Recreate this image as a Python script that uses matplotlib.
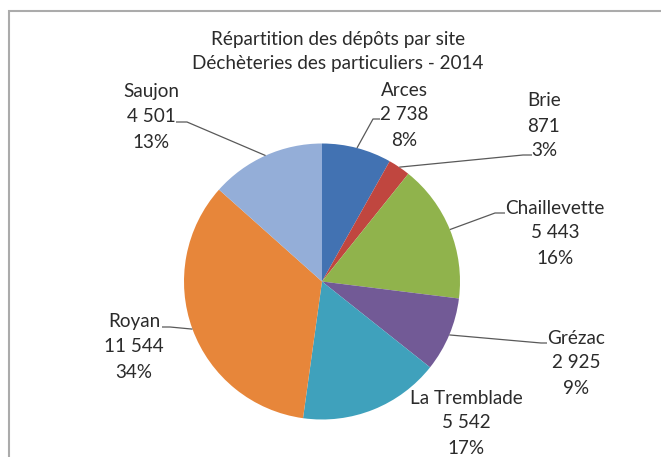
import numpy as np
import matplotlib
matplotlib.use("Agg")
import matplotlib.pyplot as plt
from matplotlib.patches import Rectangle

# ---- data ----
sites = ["Arces", "Brie", "Chaillevette", "Grézac", "La Tremblade", "Royan", "Saujon"]
depots = [2738, 871, 5443, 2925, 5542, 11544, 4501]
colors = ["#4272B2", "#C0463F", "#90B34C", "#725A96", "#3FA1BC", "#E7863A", "#94AED8"]
title_lines = ["Répartition des dépôts par site", "Déchèteries des particuliers - 2014"]

W, H = 661, 457
plt.rcParams['font.family'] = ['Lato', 'DejaVu Sans']
fig = plt.figure(figsize=(W / 100, H / 100), dpi=100)
ax = fig.add_axes([0, 0, 1, 1])

def py(y):
    # pixel row (from top) -> data y
    return H - y

# chart border
ax.add_patch(Rectangle((8.5, py(600)), 800, 600 - 11, fill=False,
                       edgecolor="#ABABAB", linewidth=1.5))

cx, cy, r = 322, py(281.5), 138
wedges, _ = ax.pie(depots, colors=colors, startangle=90, counterclock=False,
                   center=(cx, cy), radius=r, frame=True,
                   wedgeprops=dict(linewidth=0))
ax.set_xlim(0, W)
ax.set_ylim(0, H)
ax.set_aspect("equal")
ax.axis("off")

tc = "#2B2B2B"
fs = 13.6
ax.text(338, py(39), title_lines[0], ha="center", va="center", fontsize=fs, color=tc)
ax.text(338, py(64), title_lines[1], ha="center", va="center", fontsize=fs, color=tc)

total = sum(depots)
def fmt(v):
    return f"{v:,}".replace(",", " ")

# label centers (pixel, first line) and leader stub (start, end) in pixel coords
label_pos = {
    "Arces": (404, 90),
    "Brie": (544, 101),
    "Chaillevette": (555, 208),
    "Grézac": (576, 338),
    "La Tremblade": (466, 398),
    "Royan": (134, 322),
    "Saujon": (151, 92),
}
stubs = {
    "Arces": ((380, 119), (373, 119)),
    "Brie": ((532, 155), (523, 155)),
    "Chaillevette": ((505, 213), (495, 213)),
    "Grézac": ((547, 343), (541, 343)),
    "Royan": ((162, 327), (170, 327)),
    "Saujon": ((176, 122), (187, 122)),
}

cum = 0.0
for name, v, w in zip(sites, depots, wedges):
    mid = 90 - (cum + v / 2) / total * 360
    cum += v
    lx, ly = label_pos[name]
    for i, s in enumerate([name, fmt(v), f"{round(100 * v / total)}%"]):
        ax.text(lx, py(ly + 25 * i), s, ha="center", va="center", fontsize=fs, color=tc)
    if name in stubs:
        (x0, y0), (x1, y1) = stubs[name]
        ex = cx + r * np.cos(np.radians(mid))
        ey = cy + r * np.sin(np.radians(mid))
        ax.plot([x0, x1, ex], [py(y0), py(y1), ey], color="#595959", linewidth=0.9,
                solid_capstyle="butt")

fig.savefig("out.png", dpi=100)
